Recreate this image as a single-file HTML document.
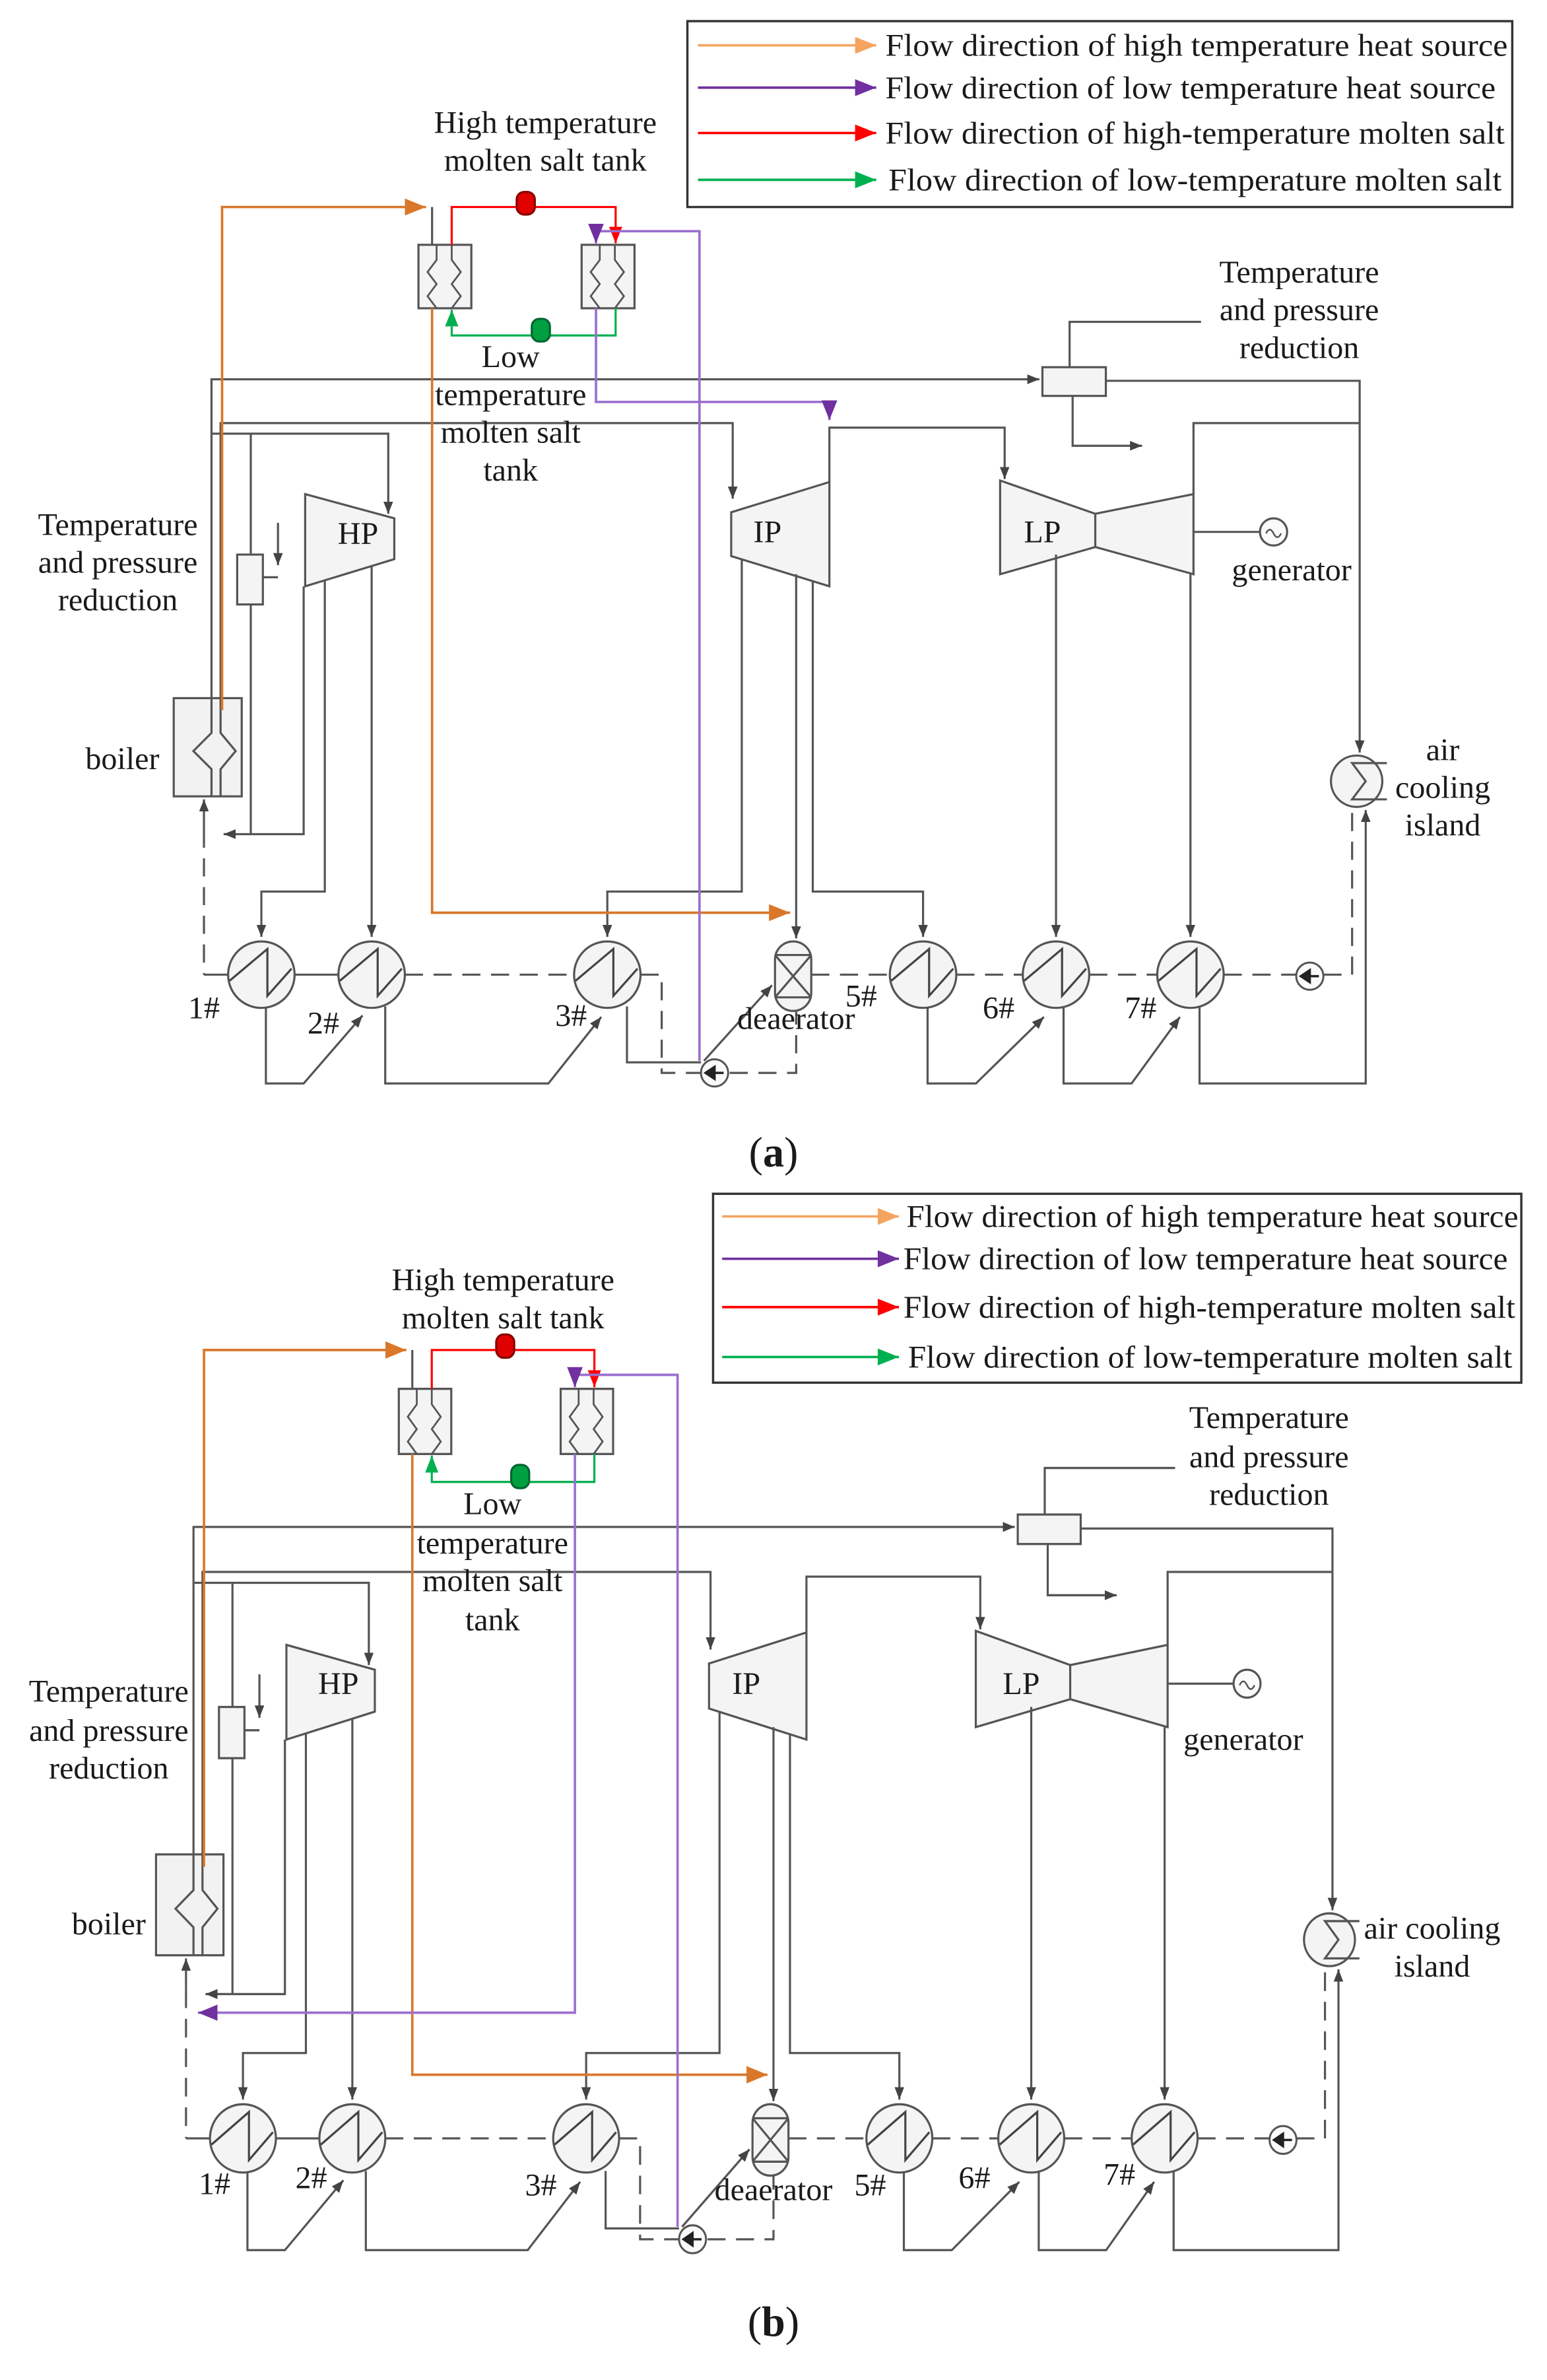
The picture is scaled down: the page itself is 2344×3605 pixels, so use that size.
<!DOCTYPE html>
<html><head><meta charset="utf-8"><style>
html,body{margin:0;padding:0;background:#fff}
svg{display:block}
text{font-family:"Liberation Serif",serif;font-size:21px;fill:#1a1a1a}
.c{text-anchor:middle}
</style></head><body>
<svg width="2344" height="3605" viewBox="0 0 1024 1575" preserveAspectRatio="none" xmlns="http://www.w3.org/2000/svg">
<defs>
<marker id="mg" viewBox="0 0 10 10" refX="10" refY="5" markerWidth="8" markerHeight="8" markerUnits="userSpaceOnUse" orient="auto"><path d="M0,1 L10,5 L0,9z" fill="#444"/></marker>
<marker id="mo" viewBox="0 0 10 10" refX="10" refY="5" markerWidth="14" markerHeight="14" markerUnits="userSpaceOnUse" orient="auto"><path d="M0,1 L10,5 L0,9z" fill="#d9772a"/></marker>
<marker id="mp" viewBox="0 0 10 10" refX="10" refY="5" markerWidth="13" markerHeight="13" markerUnits="userSpaceOnUse" orient="auto"><path d="M0,1 L10,5 L0,9z" fill="#7030a0"/></marker>
<marker id="mr" viewBox="0 0 10 10" refX="10" refY="5" markerWidth="11" markerHeight="11" markerUnits="userSpaceOnUse" orient="auto"><path d="M0,1 L10,5 L0,9z" fill="#ff0000"/></marker>
<marker id="mgr" viewBox="0 0 10 10" refX="10" refY="5" markerWidth="11" markerHeight="11" markerUnits="userSpaceOnUse" orient="auto"><path d="M0,1 L10,5 L0,9z" fill="#00b050"/></marker>
<marker id="lo" viewBox="0 0 10 10" refX="10" refY="5" markerWidth="18" markerHeight="14" markerUnits="userSpaceOnUse" orient="auto"><path d="M0,1 L10,5 L0,9z" fill="#f4a460"/></marker>
<marker id="lp" viewBox="0 0 10 10" refX="10" refY="5" markerWidth="18" markerHeight="14" markerUnits="userSpaceOnUse" orient="auto"><path d="M0,1 L10,5 L0,9z" fill="#7030a0"/></marker>
<marker id="lr" viewBox="0 0 10 10" refX="10" refY="5" markerWidth="18" markerHeight="14" markerUnits="userSpaceOnUse" orient="auto"><path d="M0,1 L10,5 L0,9z" fill="#ff0000"/></marker>
<marker id="lg" viewBox="0 0 10 10" refX="10" refY="5" markerWidth="18" markerHeight="14" markerUnits="userSpaceOnUse" orient="auto"><path d="M0,1 L10,5 L0,9z" fill="#00b050"/></marker>

<g id="heater">
<circle cx="0" cy="0" r="22" fill="#f4f4f4" stroke="#555" stroke-width="1.4"/>
<path d="M-21,4 L4,-17 L4,14 L20,-4" fill="none" stroke="#444" stroke-width="1.4"/>
</g>
<g id="pump">
<circle cx="0" cy="0" r="9" fill="#fafafa" stroke="#555" stroke-width="1.3"/>
<path d="M-6,0 L0,-4 L0,4z M0,0 H6" fill="#222" stroke="#222" stroke-width="1.5"/>
</g>

<g id="common" fill="none" stroke="#555" stroke-width="1.4">
<rect x="115" y="462" width="45" height="65" fill="#f2f2f2"/>
<path d="M140,462 V485 L128,497 L140,509 V527 M146,462 V485 L156,497 L146,509 V527" stroke="#555"/>
<path d="M140,462 V251 H688" marker-end="url(#mg)"/>
<path d="M146,462 V280 H485 V330" marker-end="url(#mg)"/>
<path d="M140,287 H257 V340" marker-end="url(#mg)"/>
<path d="M166,287 V367"/>
<rect x="157" y="367" width="17" height="33" fill="#f4f4f4"/>
<path d="M184,346 V374" marker-end="url(#mg)"/>
<path d="M174,382 H184"/>
<path d="M166,400 V552"/>
<path d="M201,388 V552 H148" marker-end="url(#mg)"/>
<polygon points="202,327 261,343 261,370 202,388" fill="#f4f4f4"/>
<path d="M215,384 V590 H173 V620" marker-end="url(#mg)"/>
<path d="M246,375 V620" marker-end="url(#mg)"/>
<polygon points="484,339 549,319 549,388 484,368" fill="#f4f4f4"/>
<path d="M491,370 V590 H402 V620" marker-end="url(#mg)"/>
<path d="M527,380 V621" marker-end="url(#mg)"/>
<path d="M538,384 V590 H611 V620" marker-end="url(#mg)"/>
<path d="M549,319 V283 H665 V317" marker-end="url(#mg)"/>
<polygon points="662,318 725,340 725,362 662,380" fill="#f4f4f4"/>
<polygon points="725,340 790,327 790,380 725,362" fill="#f4f4f4"/>
<path d="M699,367 V620" marker-end="url(#mg)"/>
<path d="M788,380 V620" marker-end="url(#mg)"/>
<path d="M790,352 H834"/>
<circle cx="843" cy="352" r="9" fill="#fafafa"/>
<path d="M838,353 q2.5,-5 5,0 t5,0" stroke-width="1.1"/>
<path d="M790,327 V280 H900"/>
<rect x="690" y="243" width="42" height="19" fill="#f4f4f4"/>
<path d="M708,243 V213 H795"/>
<path d="M710,262 V295 H756" marker-end="url(#mg)"/>
<path d="M732,252 H900 V498" marker-end="url(#mg)"/>
<circle cx="898" cy="517" r="17" fill="#f4f4f4"/>
<path d="M906,505 H895 L904,517 L895,529 H906 M906,505 H918 M906,529 H918"/>
<use href="#heater" x="173" y="645"/>
<use href="#heater" x="246" y="645"/>
<use href="#heater" x="402" y="645"/>
<use href="#heater" x="611" y="645"/>
<use href="#heater" x="699" y="645"/>
<use href="#heater" x="788" y="645"/>
<rect x="513" y="623" width="24" height="46" rx="12" fill="#f4f4f4"/>
<path d="M513,632 H537 M513,660 H537 M513,632 L537,660 M537,632 L513,660"/>
<path d="M176,667 V717 H201 L240,672" marker-end="url(#mg)"/>
<path d="M255,666 V717 H363 L398,673" marker-end="url(#mg)"/>
<path d="M415,666 V703 H464"/>
<path d="M614,667 V717 H646 L691,673" marker-end="url(#mg)"/>
<path d="M704,666 V717 H749 L781,673" marker-end="url(#mg)"/>
<path d="M794,666 V717 H904 V536" marker-end="url(#mg)"/>
<path d="M466,702 L511,652" marker-end="url(#mg)"/>
<g stroke-dasharray="12,7">
<path d="M135,549 V645"/>
<path d="M268,645 H380"/>
<path d="M424,645 H438 V710 H464"/>
<path d="M483,710 H527 V669"/>
<path d="M537,645 H589"/>
<path d="M633,645 H677"/>
<path d="M721,645 H766"/>
<path d="M810,645 H858"/>
<path d="M876,645 H895 V531"/>
</g>
<path d="M135,645 H151 M195,645 H224"/>
<path d="M135,549 V529" marker-end="url(#mg)"/>
<use href="#pump" x="867" y="646"/>
<use href="#pump" x="473" y="710"/>
<rect x="277" y="162" width="35" height="42" fill="#f4f4f4"/>
<rect x="385" y="162" width="35" height="42" fill="#f4f4f4"/>
<path d="M289,162 V172 L283,180 L289,188 L283,196 L289,204 M299,162 V172 L305,180 L299,188 L305,196 L299,204 M397,162 V172 L391,180 L397,188 L391,196 L397,204 M407,162 V172 L413,180 L407,188 L413,196 L407,204" stroke-width="1.2"/>
<path d="M286,137 V162"/>
<path d="M299,162 V137 H407.5 V161" stroke="#ff0000" marker-end="url(#mr)"/>
<rect x="342" y="127" width="12" height="15" rx="5" fill="#e00000" stroke="#800"/>
<path d="M407.5,204 V222 H299 V205" stroke="#00b050" marker-end="url(#mgr)"/>
<rect x="352" y="211" width="12" height="15" rx="5" fill="#00a040" stroke="#063"/>
<path d="M147,470 V137 H282" stroke="#d9772a" stroke-width="1.6" marker-end="url(#mo)"/>
<path d="M286,204 V604 H523" stroke="#d9772a" stroke-width="1.6" marker-end="url(#mo)"/>
<path d="M463,702 V153 H394.5 V161" stroke="#9b6fcf" stroke-width="1.6" marker-end="url(#mp)"/>
</g>
</defs>

<use href="#common"/>
<path d="M394.5,204 V266 H549 V278" fill="none" stroke="#9b6fcf" stroke-width="1.6" marker-end="url(#mp)"/>
<rect x="455" y="14" width="546" height="123" fill="none" stroke="#333" stroke-width="1.5"/>
<g stroke-width="1.6">
<line x1="462" y1="30" x2="580" y2="30" stroke="#f4a460" marker-end="url(#lo)"/>
<line x1="462" y1="58" x2="580" y2="58" stroke="#7030a0" marker-end="url(#lp)"/>
<line x1="462" y1="88" x2="580" y2="88" stroke="#ff0000" marker-end="url(#lr)"/>
<line x1="462" y1="119" x2="580" y2="119" stroke="#00b050" marker-end="url(#lg)"/>
</g>
<text x="586" y="37" textLength="412" lengthAdjust="spacingAndGlyphs">Flow direction of high temperature heat source</text>
<text x="586" y="65" textLength="404" lengthAdjust="spacingAndGlyphs">Flow direction of low temperature heat source</text>
<text x="586" y="95" textLength="410" lengthAdjust="spacingAndGlyphs">Flow direction of high-temperature molten salt</text>
<text x="588" y="126" textLength="406" lengthAdjust="spacingAndGlyphs">Flow direction of low-temperature molten salt</text>
<text class="c" x="361" y="88">High temperature</text>
<text class="c" x="361" y="113">molten salt tank</text>
<text class="c" x="338" y="243">Low</text>
<text class="c" x="338" y="268">temperature</text>
<text class="c" x="338" y="293">molten salt</text>
<text class="c" x="338" y="318">tank</text>
<text class="c" x="860" y="187">Temperature</text>
<text class="c" x="860" y="212">and pressure</text>
<text class="c" x="860" y="237">reduction</text>
<text class="c" x="78" y="354">Temperature</text>
<text class="c" x="78" y="379">and pressure</text>
<text class="c" x="78" y="404">reduction</text>
<text class="c" x="81" y="509">boiler</text>
<text class="c" x="237" y="360">HP</text>
<text class="c" x="508" y="359">IP</text>
<text class="c" x="690" y="359">LP</text>
<text class="c" x="855" y="384">generator</text>
<text class="c" x="955" y="503">air</text>
<text class="c" x="955" y="528">cooling</text>
<text class="c" x="955" y="553">island</text>
<text class="c" x="135" y="674">1#</text>
<text class="c" x="214" y="684">2#</text>
<text class="c" x="378" y="679">3#</text>
<text class="c" x="527" y="681">deaerator</text>
<text class="c" x="570" y="666">5#</text>
<text class="c" x="661" y="674">6#</text>
<text class="c" x="755" y="674">7#</text>
<text class="c" x="512" y="772" style="font-size:28px">(<tspan font-weight="bold">a</tspan>)</text>

<g transform="matrix(0.992,0,0,1.027,-10.8,752.7)">
<use href="#common"/>
<path d="M394.5,204 V564 H143" fill="none" stroke="#9b6fcf" stroke-width="1.6" marker-end="url(#mp)"/>
</g>
<rect x="472" y="790" width="535" height="125" fill="none" stroke="#333" stroke-width="1.5"/>
<g stroke-width="1.6">
<line x1="478" y1="805" x2="595" y2="805" stroke="#f4a460" marker-end="url(#lo)"/>
<line x1="478" y1="833" x2="595" y2="833" stroke="#7030a0" marker-end="url(#lp)"/>
<line x1="478" y1="865" x2="595" y2="865" stroke="#ff0000" marker-end="url(#lr)"/>
<line x1="478" y1="898" x2="595" y2="898" stroke="#00b050" marker-end="url(#lg)"/>
</g>
<text x="600" y="812" textLength="405" lengthAdjust="spacingAndGlyphs">Flow direction of high temperature heat source</text>
<text x="598" y="840" textLength="400" lengthAdjust="spacingAndGlyphs">Flow direction of low temperature heat source</text>
<text x="598" y="872" textLength="405" lengthAdjust="spacingAndGlyphs">Flow direction of high-temperature molten salt</text>
<text x="601" y="905" textLength="400" lengthAdjust="spacingAndGlyphs">Flow direction of low-temperature molten salt</text>
<text class="c" x="333" y="854">High temperature</text>
<text class="c" x="333" y="879">molten salt tank</text>
<text class="c" x="326" y="1002">Low</text>
<text class="c" x="326" y="1028">temperature</text>
<text class="c" x="326" y="1053">molten salt</text>
<text class="c" x="326" y="1079">tank</text>
<text class="c" x="840" y="945">Temperature</text>
<text class="c" x="840" y="971">and pressure</text>
<text class="c" x="840" y="996">reduction</text>
<text class="c" x="72" y="1126">Temperature</text>
<text class="c" x="72" y="1152">and pressure</text>
<text class="c" x="72" y="1177">reduction</text>
<text class="c" x="72" y="1280">boiler</text>
<text class="c" x="224" y="1121">HP</text>
<text class="c" x="494" y="1121">IP</text>
<text class="c" x="676" y="1121">LP</text>
<text class="c" x="823" y="1158">generator</text>
<text class="c" x="948" y="1283">air cooling</text>
<text class="c" x="948" y="1308">island</text>
<text class="c" x="142" y="1452">1#</text>
<text class="c" x="206" y="1448">2#</text>
<text class="c" x="358" y="1453">3#</text>
<text class="c" x="512" y="1456">deaerator</text>
<text class="c" x="576" y="1453">5#</text>
<text class="c" x="645" y="1448">6#</text>
<text class="c" x="741" y="1446">7#</text>
<text class="c" x="512" y="1546" style="font-size:28px">(<tspan font-weight="bold">b</tspan>)</text>
</svg>
</body></html>
